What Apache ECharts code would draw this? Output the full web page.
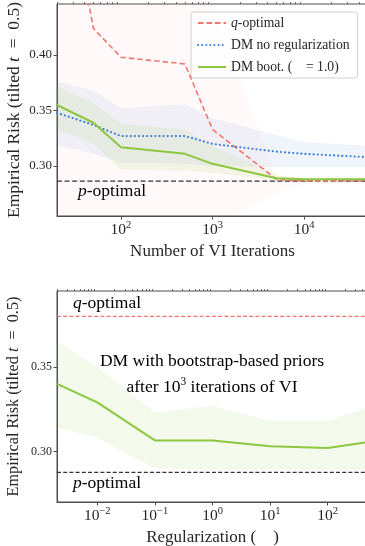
<!DOCTYPE html>
<html>
<head>
<meta charset="utf-8">
<script src="https://cdn.jsdelivr.net/npm/echarts@6/dist/echarts.min.js"></script>
<style>html,body{margin:0;padding:0;background:#fff}#c{width:365px;height:546px}</style>
</head>
<body>
<div id="c"></div>
<script>
// ---------- Top panel data ----------
const iterations = [20, 50, 100, 500, 1000, 5000, 10000, 50000];
const qOptimal     = [0.600, 0.424, 0.398, 0.392, 0.333, 0.288, 0.2865, 0.2865];
const qOptimalLow  = [0.250, 0.245, 0.240, 0.240, 0.245, 0.276, 0.284, 0.284];
const qOptimalHigh = [0.760, 0.650, 0.600, 0.550, 0.445, 0.291, 0.289, 0.289];
const dmNoReg      = [0.348, 0.337, 0.327, 0.327, 0.320, 0.313, 0.311, 0.308];
const dmNoRegLow   = [0.319, 0.311, 0.303, 0.302, 0.300, 0.299, 0.299, 0.299];
const dmNoRegHigh  = [0.376, 0.368, 0.352, 0.356, 0.343, 0.328, 0.322, 0.318];
const dmBoot       = [0.355, 0.339, 0.317, 0.311, 0.302, 0.289, 0.288, 0.288];
const dmBootLow    = [0.333, 0.320, 0.297, 0.296, 0.294, 0.287, 0.287, 0.287];
const dmBootHigh   = [0.372, 0.357, 0.338, 0.333, 0.318, 0.292, 0.289, 0.289];
const pOptimalTop  = 0.2865;
const topXRange = [20, 50000];
const topYRange = [0.255, 0.446];
const topXMajor = [100, 1000, 10000];
const topXMinor = [20,30,40,50,60,70,80,90,200,300,400,500,600,700,800,900,
                   2000,3000,4000,5000,6000,7000,8000,9000,20000,30000,40000,50000];
const topYTicks = [0.30, 0.35, 0.40];

// ---------- Bottom panel data ----------
const regularization = [0.002, 0.01, 0.1, 1, 10, 100, 500];
const regBoot     = [0.340, 0.329, 0.3065, 0.3065, 0.303, 0.302, 0.3055];
const regBootLow  = [0.314, 0.308, 0.290, 0.289, 0.289, 0.289, 0.289];
const regBootHigh = [0.365, 0.350, 0.323, 0.327, 0.318, 0.318, 0.326];
const qOptimalBottom = 0.380;
const pOptimalBottom = 0.2875;
const botXRange = [0.002, 500];
const botYRange = [0.270, 0.395];
const botXMajor = [0.01, 0.1, 1, 10, 100];
const botXMinor = [0.002,0.003,0.004,0.005,0.006,0.007,0.008,0.009,
                   0.02,0.03,0.04,0.05,0.06,0.07,0.08,0.09,
                   0.2,0.3,0.4,0.5,0.6,0.7,0.8,0.9,
                   2,3,4,5,6,7,8,9,20,30,40,50,60,70,80,90,200,300,400,500];
const botYTicks = [0.30, 0.35];

// ---------- styling ----------
const FONT = "'Liberation Serif', 'DejaVu Serif', serif";
const RED = '#f4766b', BLUE = '#3b7dd8', GREEN = '#8dc63f', INK = '#262626', SPINE = '#4d4d4d';
const LEG_BOOT = 'DM boot. (    = 1.0)';

function pairs(xs, ys) { return xs.map((x, i) => [x, ys[i]]); }
// confidence band drawn as one polygon through the axis scales
function band(id, xs, lo, hi, color, gi) {
  return {
    type: 'custom', name: id, xAxisIndex: gi * 2, yAxisIndex: gi, z: 1, silent: true,
    data: pairs(xs, lo),
    renderItem: function (params, api) {
      if (params.dataIndex !== 0) return null;
      const pts = [];
      for (let i = 0; i < xs.length; i++) pts.push(api.coord([xs[i], hi[i]]));
      for (let i = xs.length - 1; i >= 0; i--) pts.push(api.coord([xs[i], lo[i]]));
      const cs = params.coordSys;
      return {
        type: 'group',
        clipPath: { type: 'rect', shape: { x: cs.x, y: cs.y, width: cs.width, height: cs.height } },
        children: [{ type: 'polygon', shape: { points: pts }, style: { fill: color, stroke: null } }]
      };
    }
  };
}
function hLine(name, range, value, gi, style, z) {
  return { type: 'line', name: name, xAxisIndex: gi * 2, yAxisIndex: gi, symbol: 'none', z: z || 2, silent: true,
    data: [[range[0], value], [range[1], value]], lineStyle: style };
}
function powLabel(v) {
  const e = Math.round(Math.log10(v));
  return '{b|10}{s|' + (e < 0 ? '\u2212' + (-e) : e) + '}';
}
const powRich = {
  b: { fontFamily: FONT, fontSize: 15.5, color: INK, lineHeight: 18, verticalAlign: 'bottom' },
  s: { fontFamily: FONT, fontSize: 10.5, color: INK, lineHeight: 11, verticalAlign: 'top' }
};
function xMajor(gi, range, ticks, name, gap) {
  return {
    type: 'log', gridIndex: gi, min: range[0], max: range[1], logBase: 10,
    name: name, nameLocation: 'middle', nameGap: gap, nameMoveOverlap: false,
    nameTextStyle: { fontFamily: FONT, fontSize: 17, color: INK },
    axisLine: { show: true, lineStyle: { color: SPINE, width: 1 } },
    axisTick: { show: true, length: 3.5, customValues: ticks, lineStyle: { color: SPINE } },
    axisLabel: { show: true, customValues: ticks, margin: 4, formatter: powLabel, rich: powRich },
    splitLine: { show: false }, minorTick: { show: false }
  };
}
function xMinor(gi, range, ticks) {
  return {
    type: 'log', gridIndex: gi, min: range[0], max: range[1], logBase: 10,
    axisLine: { show: false },
    axisTick: { show: true, length: 2, customValues: ticks, lineStyle: { color: SPINE, width: 0.8 } },
    axisLabel: { show: false }, splitLine: { show: false }
  };
}
function yAx(gi, range, ticks, fs, labelFs, gap) {
  return {
    type: 'value', gridIndex: gi, min: range[0], max: range[1],
    name: '{a|Empirical Risk (tilted }{i|t}{a|  =  0.5)}', nameLocation: 'middle', nameGap: gap, nameRotate: 90,
    nameMoveOverlap: false,
    nameTextStyle: { rich: {
      a: { fontFamily: FONT, fontSize: fs, color: INK },
      i: { fontFamily: FONT, fontSize: fs, color: INK, fontStyle: 'italic' } } },
    axisLine: { show: true, lineStyle: { color: SPINE, width: 1 } },
    axisTick: { show: true, length: 3.5, customValues: ticks, lineStyle: { color: SPINE } },
    axisLabel: { show: true, customValues: ticks, margin: 5, fontFamily: FONT, fontSize: labelFs, color: INK,
      formatter: v => v.toFixed(2) },
    splitLine: { show: false }
  };
}

const series = [];
series.push(band('qb', iterations, qOptimalLow, qOptimalHigh, 'rgba(244,118,107,0.045)', 0));
series.push(band('nb', iterations, dmNoRegLow, dmNoRegHigh, 'rgba(59,125,216,0.075)', 0));
series.push(band('bb', iterations, dmBootLow, dmBootHigh, 'rgba(141,198,63,0.10)', 0));
series.push(hLine('p-opt-top', topXRange, pOptimalTop, 0, { color: '#333', width: 1.3, type: [5, 2.6] }, 2));
series.push({ type: 'line', name: 'q-optimal', xAxisIndex: 0, yAxisIndex: 0, symbol: 'none', z: 3,
  data: pairs(iterations, qOptimal), lineStyle: { color: RED, width: 1.6, type: [5.5, 3] }, itemStyle: { color: RED } });
series.push({ type: 'line', name: 'DM no regularization', xAxisIndex: 0, yAxisIndex: 0, symbol: 'none', z: 3,
  data: pairs(iterations, dmNoReg), lineStyle: { color: BLUE, width: 2.1, type: [0.1, 4], cap: 'round' }, itemStyle: { color: BLUE } });
series.push({ type: 'line', name: LEG_BOOT, xAxisIndex: 0, yAxisIndex: 0, symbol: 'none', z: 4,
  data: pairs(iterations, dmBoot), lineStyle: { color: GREEN, width: 2 }, itemStyle: { color: GREEN } });

series.push(band('rb', regularization, regBootLow, regBootHigh, 'rgba(141,198,63,0.10)', 1));
series.push(hLine('q-opt-bottom', botXRange, qOptimalBottom, 1, { color: RED, width: 1.2, type: [4, 2.2] }, 2));
series.push(hLine('p-opt-bottom', botXRange, pOptimalBottom, 1, { color: '#333', width: 1.2, type: [4, 2.2] }, 2));
series.push({ type: 'line', name: 'reg-boot', xAxisIndex: 2, yAxisIndex: 1, symbol: 'none', z: 4,
  data: pairs(regularization, regBoot), lineStyle: { color: GREEN, width: 2 }, itemStyle: { color: GREEN } });

const txt = (x, y, text, rich, align) => ({ type: 'text', x: x, y: y, z: 100, silent: true,
  style: { text: text, rich: rich, align: align || 'left', verticalAlign: 'middle' } });
const annRich = (color) => ({
  i: { fontFamily: FONT, fontSize: 17.5, fontStyle: 'italic', color: color },
  a: { fontFamily: FONT, fontSize: 17.5, color: color },
  s: { fontFamily: FONT, fontSize: 11.5, color: color, verticalAlign: 'top', lineHeight: 12 },
  b: { fontFamily: FONT, fontSize: 17.5, color: color, verticalAlign: 'bottom', lineHeight: 21 }
});

const option = {
  animation: false,
  backgroundColor: '#fff',
  grid: [
    { left: 57, top: 4, width: 311, height: 212, show: true, borderColor: SPINE, borderWidth: 1,
      backgroundColor: 'transparent', outerBoundsMode: 'none', containLabel: false },
    { left: 57, top: 291, width: 311, height: 211, show: true, borderColor: SPINE, borderWidth: 1,
      backgroundColor: 'transparent', outerBoundsMode: 'none', containLabel: false }
  ],
  xAxis: [
    xMajor(0, topXRange, topXMajor, 'Number of VI Iterations', 27),
    xMinor(0, topXRange, topXMinor),
    xMajor(1, botXRange, botXMajor, 'Regularization (    )', 27.5),
    xMinor(1, botXRange, botXMinor)
  ],
  yAxis: [
    yAx(0, topYRange, topYTicks, 17.5, 13, 34),
    yAx(1, botYRange, botYTicks, 16.2, 12, 35)
  ],
  legend: {
    data: ['q-optimal', 'DM no regularization', LEG_BOOT],
    orient: 'vertical', left: 191, top: 12, width: 169,
    itemWidth: 28, itemHeight: 12, itemGap: 8, padding: [4, 8, 4, 6],
    itemStyle: { opacity: 0 },
    backgroundColor: 'rgba(255,255,255,0.85)', borderColor: '#d0d0d0', borderWidth: 1, borderRadius: 3,
    formatter: n => n === 'q-optimal' ? '{i|q}{a|-optimal}' : '{a|' + n + '}',
    textStyle: { rich: {
      i: { fontFamily: FONT, fontSize: 13.7, fontStyle: 'italic', color: INK },
      a: { fontFamily: FONT, fontSize: 13.7, color: INK } } }
  },
  graphic: [
    txt(78, 191, '{i|p}{a|-optimal}', annRich(INK)),
    txt(73, 303, '{i|q}{a|-optimal}', annRich(RED)),
    txt(73, 483, '{i|p}{a|-optimal}', annRich(INK)),
    txt(212, 361, '{a|DM with bootstrap-based priors}', annRich(INK), 'center'),
    txt(212, 386, '{b|after 10}{s|3}{b| iterations of VI}', annRich(INK), 'center')
  ],
  series: series
};
echarts.init(document.getElementById('c'), null, { renderer: 'canvas' }).setOption(option);
</script>
</body>
</html>
